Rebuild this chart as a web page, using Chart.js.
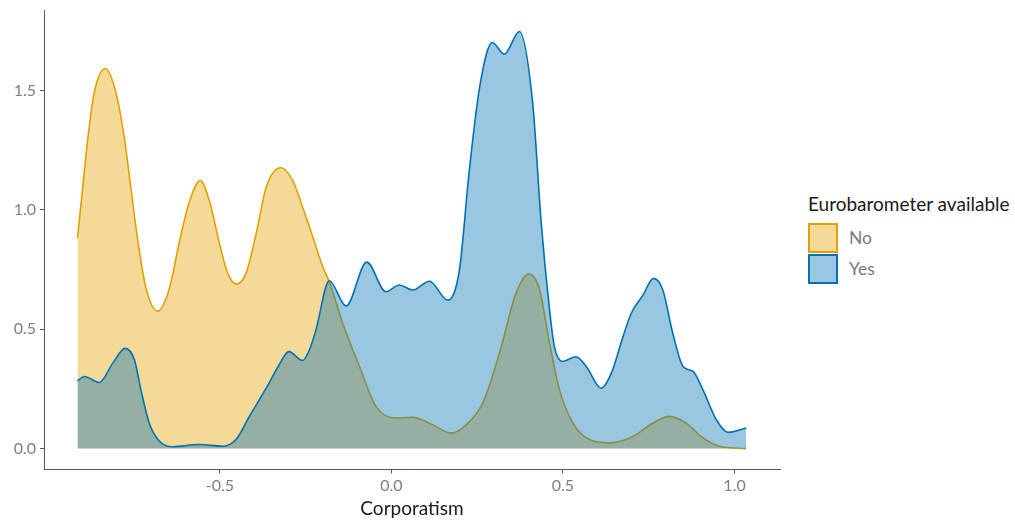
<!DOCTYPE html>
<html lang="en">
<head>
    <meta charset="UTF-8">
    <title>Corporatism density</title>
    <script src="https://cdn.jsdelivr.net/npm/chart.js"></script>
    <style>
        body {
            margin: 0;
            background: #ffffff;
            font-family: Lato, "Open Sans", sans-serif;
        }
        .wrap {
            position: relative;
            width: 1015px;
            height: 520px;
        }
        .plot {
            position: absolute;
            left: 0;
            top: 0;
            width: 800px;
            height: 520px;
        }
        .legend {
            position: absolute;
            left: 808px;
            top: 193px;
        }
        .legend-title {
            font-size: 19px;
            line-height: 22px;
            color: #1a1a1a;
            margin-bottom: 7px;
            white-space: nowrap;
        }
        .legend-row {
            display: flex;
            align-items: center;
            height: 31px;
        }
        .legend-box {
            width: 26px;
            height: 26px;
            border: 2px solid;
            margin-right: 11px;
        }
        .legend-row span {
            font-size: 17.5px;
            color: #7a7a7a;
        }
    </style>
</head>
<body>
    <div class="wrap">
        <div class="plot"><canvas id="densityChart" width="800" height="520"></canvas></div>
        <div class="legend">
            <div class="legend-title">Eurobarometer available</div>
            <div class="legend-row">
                <div class="legend-box" style="background: rgba(230,159,0,0.4); border-color: #E69F00;"></div>
                <span>No</span>
            </div>
            <div class="legend-row">
                <div class="legend-box" style="background: rgba(0,114,178,0.4); border-color: #0072B2;"></div>
                <span>Yes</span>
            </div>
        </div>
    </div>

    <script>
        // density estimates, Eurobarometer not available
        const noX = [-0.915, -0.900, -0.885, -0.866, -0.834, -0.803, -0.778, -0.759, -0.740, -0.715,
                     -0.681, -0.647, -0.618, -0.589, -0.557, -0.531, -0.501, -0.477, -0.451, -0.424,
                     -0.394, -0.365, -0.322, -0.288, -0.259, -0.229, -0.200, -0.181, -0.142, -0.093,
                     -0.045, 0.014, 0.062, 0.120, 0.174, 0.218, 0.266, 0.315, 0.363, 0.400,
                     0.431, 0.461, 0.490, 0.529, 0.577, 0.636, 0.704, 0.762, 0.810, 0.859,
                     0.908, 0.956, 1.034];
        const noY = [0.882, 1.088, 1.297, 1.492, 1.592, 1.492, 1.297, 1.088, 0.880, 0.671,
                     0.576, 0.671, 0.866, 1.033, 1.123, 1.040, 0.859, 0.734, 0.689, 0.734,
                     0.901, 1.095, 1.176, 1.123, 1.012, 0.886, 0.761, 0.699, 0.525, 0.344,
                     0.177, 0.128, 0.131, 0.100, 0.065, 0.100, 0.191, 0.400, 0.650, 0.731,
                     0.671, 0.441, 0.246, 0.107, 0.038, 0.024, 0.051, 0.107, 0.135, 0.107,
                     0.045, 0.010, 0.000];

        // density estimates, Eurobarometer available
        const yesX = [-0.915, -0.895, -0.851, -0.812, -0.776, -0.749, -0.730, -0.706, -0.676, -0.638,
                      -0.560, -0.492, -0.453, -0.414, -0.365, -0.327, -0.299, -0.259, -0.239, -0.220,
                      -0.181, -0.132, -0.072, -0.016, 0.023, 0.062, 0.111, 0.164, 0.198, 0.227,
                      0.257, 0.294, 0.329, 0.373, 0.412, 0.436, 0.461, 0.475, 0.499, 0.538,
                      0.568, 0.611, 0.641, 0.675, 0.699, 0.733, 0.764, 0.791, 0.820, 0.850,
                      0.879, 0.908, 0.947, 0.981, 1.034];
        const yesY = [0.284, 0.302, 0.277, 0.358, 0.420, 0.372, 0.246, 0.107, 0.031, 0.008,
                      0.017, 0.010, 0.038, 0.135, 0.253, 0.351, 0.406, 0.369, 0.413, 0.497,
                      0.703, 0.597, 0.781, 0.657, 0.685, 0.664, 0.701, 0.622, 0.747, 1.165,
                      1.513, 1.701, 1.652, 1.747, 1.443, 0.956, 0.580, 0.427, 0.365, 0.385,
                      0.344, 0.253, 0.316, 0.469, 0.567, 0.643, 0.713, 0.664, 0.483, 0.344,
                      0.323, 0.246, 0.121, 0.068, 0.086];

        const xTicks = [-0.5, 0.0, 0.5, 1.0];
        const yTicks = [0.0, 0.5, 1.0, 1.5];

        const toPoints = (xs, ys) => xs.map((x, i) => ({ x: x, y: ys[i] }));

        const tickFont = { family: 'Lato, sans-serif', size: 16 };
        const tickColor = '#7f7f7f';
        const axisColor = '#555555';

        new Chart(document.getElementById('densityChart'), {
            type: 'line',
            data: {
                datasets: [
                    {
                        label: 'No',
                        data: toPoints(noX, noY),
                        borderColor: '#E69F00',
                        backgroundColor: 'rgba(230,159,0,0.4)',
                        borderWidth: 1.6,
                        fill: 'origin',
                        pointRadius: 0,
                        cubicInterpolationMode: 'monotone',
                        order: 1
                    },
                    {
                        label: 'Yes',
                        data: toPoints(yesX, yesY),
                        borderColor: '#0072B2',
                        backgroundColor: 'rgba(0,114,178,0.4)',
                        borderWidth: 1.6,
                        fill: 'origin',
                        pointRadius: 0,
                        cubicInterpolationMode: 'monotone',
                        order: 0
                    }
                ]
            },
            options: {
                responsive: false,
                animation: false,
                layout: { padding: { top: 10, right: 20, left: 0, bottom: 0 } },
                plugins: {
                    legend: { display: false },
                    tooltip: { enabled: false }
                },
                scales: {
                    x: {
                        type: 'linear',
                        min: -1.0125,
                        max: 1.1325,
                        afterBuildTicks: (scale) => { scale.ticks = xTicks.map(v => ({ value: v })); },
                        afterFit: (scale) => {
                            scale.height = 50.5;
                            scale.paddingLeft = 0;
                            scale.paddingRight = 0;
                        },
                        grid: { display: true, drawOnChartArea: false, drawTicks: true, tickLength: 4, color: axisColor },
                        border: { display: true, color: axisColor, width: 1 },
                        ticks: {
                            color: tickColor,
                            font: tickFont,
                            padding: 3,
                            maxRotation: 0,
                            callback: (v) => v.toFixed(1)
                        },
                        title: {
                            display: true,
                            text: 'Corporatism',
                            color: '#1a1a1a',
                            font: { family: 'Lato, sans-serif', size: 19 },
                            padding: { top: 0, bottom: 0 }
                        }
                    },
                    y: {
                        type: 'linear',
                        min: -0.0875,
                        max: 1.837,
                        afterBuildTicks: (scale) => { scale.ticks = yTicks.map(v => ({ value: v })); },
                        afterFit: (scale) => {
                            scale.width = 44;
                            scale.paddingTop = 0;
                            scale.paddingBottom = 0;
                        },
                        grid: { display: true, drawOnChartArea: false, drawTicks: true, tickLength: 4, color: axisColor },
                        border: { display: true, color: axisColor, width: 1 },
                        ticks: {
                            color: tickColor,
                            font: tickFont,
                            padding: 4,
                            callback: (v) => v.toFixed(1)
                        }
                    }
                }
            }
        });
    </script>
</body>
</html>
